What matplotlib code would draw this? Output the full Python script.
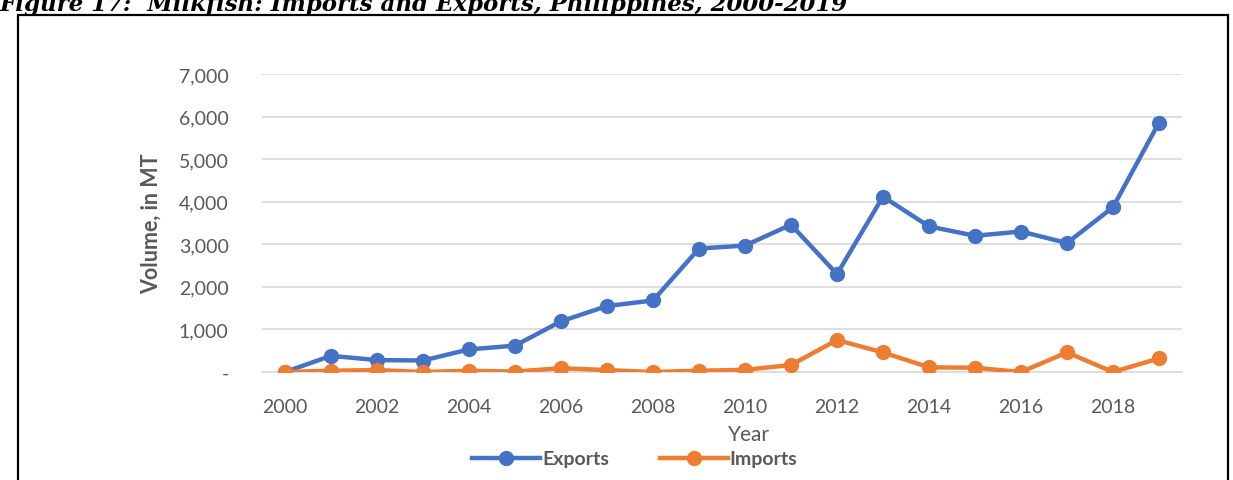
import matplotlib.pyplot as plt
from matplotlib.patches import Rectangle
from matplotlib.ticker import FuncFormatter

# Data (volume, in MT)
years = list(range(2000, 2020))
exports = [0, 380, 280, 270, 530, 620, 1190, 1550, 1680, 2900,
           2970, 3460, 2300, 4120, 3420, 3200, 3300, 3030, 3870, 5860]
imports = [0, 30, 45, 0, 30, 10, 90, 45, 0, 30,
           50, 165, 750, 460, 110, 100, 0, 460, 0, 320]

blue = '#4472C4'
orange = '#ED7D31'
grey = '#595959'

plt.rcParams['font.family'] = ['Lato', 'DejaVu Sans']

fig = plt.figure(figsize=(12.33, 4.81), dpi=100)
W, H = 1233, 481

# frame around the figure box
fig.patches.append(Rectangle((18 / W, -0.1), (1228 - 18) / W, 1.1 - 16 / H,
                             transform=fig.transFigure, fill=False,
                             edgecolor='black', linewidth=1.6))

# title, partly cut off at the top as in the source
fig.text(0.0, 1 - 5 / H, 'Figure 17:  Milkfish: Imports and Exports, Philippines, 2000-2019',
         family='DejaVu Serif', style='italic', weight='bold', fontsize=16.5,
         ha='left', va='center')

ax = fig.add_axes([262 / W, 1 - 373 / H, (1182 - 262) / W, (373 - 75) / H])

ax.plot(years, exports, color=blue, lw=3.2, marker='o', ms=10, label='Exports', zorder=3)
ax.plot(years, imports, color=orange, lw=3.2, marker='o', ms=10, label='Imports', zorder=4)

ax.set_xlim(1999.5, 2019.5)
ax.set_ylim(0, 7000)
ax.set_yticks(range(0, 7001, 1000))
ax.set_xticks(range(2000, 2020, 2))
ax.yaxis.set_major_formatter(FuncFormatter(lambda v, p: '-' if v == 0 else f'{int(v):,}'))

ax.grid(axis='y', color='#D9D9D9', lw=1.2)
ax.set_axisbelow(True)
for s in ['top', 'right', 'left']:
    ax.spines[s].set_visible(False)
ax.spines['bottom'].set_color('#D9D9D9')
ax.spines['bottom'].set_linewidth(1.2)
ax.tick_params(length=0, labelsize=14, labelcolor=grey)
ax.tick_params(axis='y', pad=24)
ax.tick_params(axis='x', pad=19)

ax.set_ylabel('Volume, in MT', fontsize=15.5, weight='bold', color=grey, labelpad=12)
fig.text(749 / W, 1 - 435 / H, 'Year', fontsize=15, color=grey, ha='center', va='center')

fig.legend(loc='center', bbox_to_anchor=(635 / W, 1 - 460 / H), ncol=2, frameon=False,
           prop={'weight': 'bold', 'size': 14}, labelcolor=grey,
           handlelength=3.5, handletextpad=0.1, columnspacing=2.6, borderaxespad=0)

fig.savefig('out.png', dpi=100)
